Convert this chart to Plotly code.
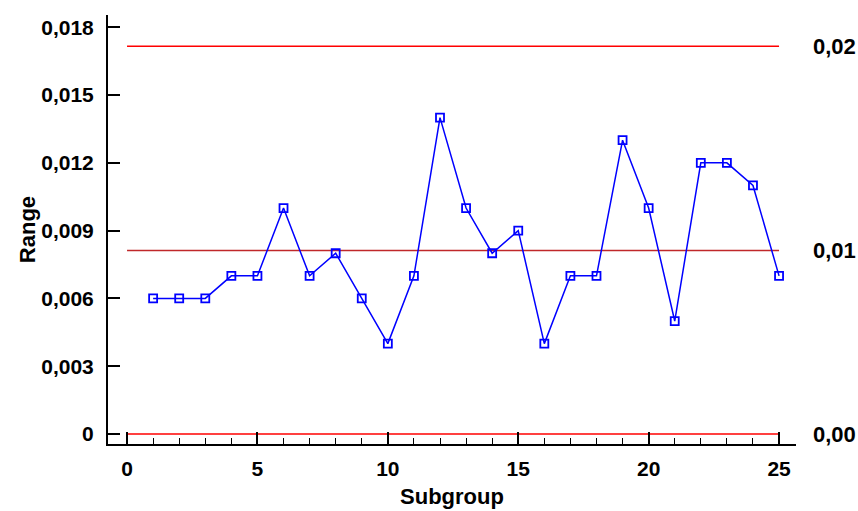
import plotly.graph_objects as go

subgroups = list(range(1, 26))
ranges = [0.006, 0.006, 0.006, 0.007, 0.007, 0.010, 0.007, 0.008, 0.006, 0.004,
          0.007, 0.014, 0.010, 0.008, 0.009, 0.004, 0.007, 0.007, 0.013, 0.010,
          0.005, 0.012, 0.012, 0.011, 0.007]
ucl = 0.01716
cl = 0.00812
lcl = 0.0
limit_labels = ["0,02", "0,01", "0,00"]
y_tickvals = [0, 0.003, 0.006, 0.009, 0.012, 0.015, 0.018]
y_ticktext = ["0", "0,003", "0,006", "0,009", "0,012", "0,015", "0,018"]
x_tickvals = [0, 5, 10, 15, 20, 25]

fam = "Liberation Sans, Arial, sans-serif"
tick_font = dict(family=fam, size=21, color="black")
title_font = dict(family=fam, size=22, color="black")

fig = go.Figure()
for val, col in [(ucl, "#ff0000"), (cl, "#c0282a"), (lcl, "#ff0000")]:
    fig.add_trace(go.Scatter(x=[0, 25], y=[val, val], mode="lines",
                             line=dict(color=col, width=1.5),
                             showlegend=False, hoverinfo="skip"))

fig.add_trace(go.Scatter(x=subgroups, y=ranges, mode="lines+markers",
                         line=dict(color="#0000ff", width=1.5),
                         marker=dict(symbol="square-open", size=8,
                                     color="#0000ff", line=dict(width=1.8)),
                         showlegend=False))

for val, lab in zip([ucl, cl, lcl], limit_labels):
    fig.add_annotation(x=1.022, xref="paper", y=val, yref="y", text="<b>%s</b>" % lab,
                       showarrow=False, xanchor="left", yanchor="middle",
                       font=title_font)

fig.update_layout(
    width=858, height=511,
    margin=dict(l=108, r=62, t=15, b=67),
    paper_bgcolor="white", plot_bgcolor="white",
    font=tick_font,
    xaxis=dict(range=[-0.73, 25.65], tickvals=x_tickvals,
               ticktext=["<b>%d</b>" % v for v in x_tickvals],
               tickfont=tick_font, ticklabelstandoff=5, automargin=False,
               ticks="inside", ticklen=12, tickwidth=1.5, tickcolor="black",
               minor=dict(dtick=1, ticks="inside", ticklen=6, tickwidth=1, tickcolor="black"),
               showline=True, linecolor="black", linewidth=2,
               showgrid=False, zeroline=False,
               title=dict(text="<b>Subgroup</b>", font=title_font, standoff=9)),
    yaxis=dict(range=[-0.00044, 0.01854], tickvals=y_tickvals,
               ticktext=["<b>%s</b>" % t for t in y_ticktext],
               tickfont=tick_font, ticklabelstandoff=8, automargin=False,
               ticks="inside", ticklen=12, tickwidth=1.5, tickcolor="black",
               showline=True, linecolor="black", linewidth=2,
               showgrid=False, zeroline=False,
               title=dict(text="<b>Range</b>", font=title_font, standoff=0)),
)

fig.write_html("out.html")
